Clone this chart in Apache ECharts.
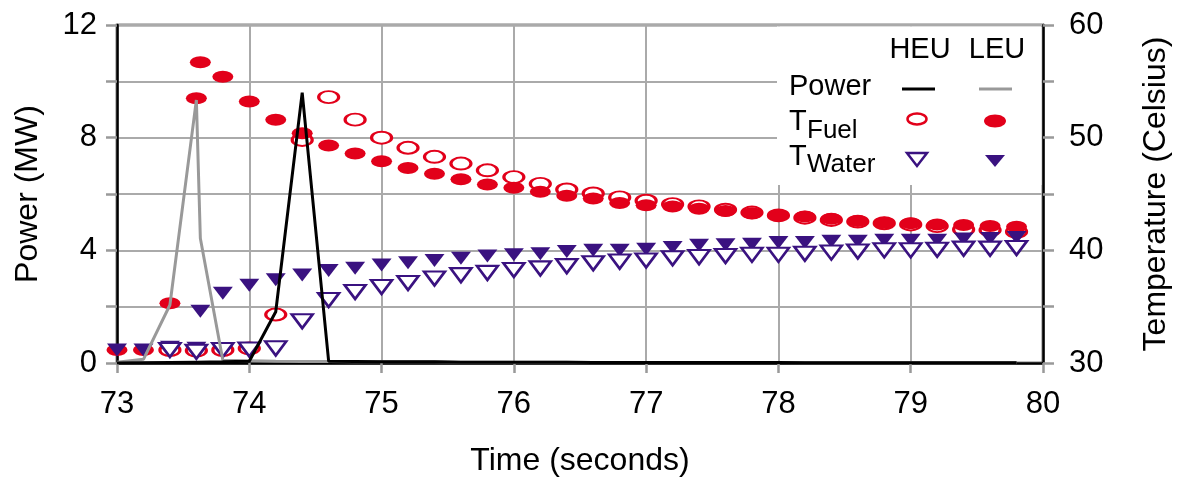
<!DOCTYPE html>
<html>
<head>
<meta charset="utf-8">
<script src="https://cdn.jsdelivr.net/npm/echarts@6/dist/echarts.min.js"></script>
<style>
html, body { margin: 0; padding: 0; background: #fff; }
#chart { width: 1177px; height: 478px; }
</style>
</head>
<body>
<div id="chart"></div>
<script>
// 时间 (s)
var timeHeu = [73.0, 73.2, 73.4, 73.6, 73.8, 74.0, 74.2, 74.4, 74.6, 74.8, 75.0, 75.2, 75.4, 75.6, 75.8,
    76.0, 76.2, 76.4, 76.6, 76.8, 77.0, 77.2, 77.4, 77.6, 77.8, 78.0, 78.2, 78.4, 78.6, 78.8,
    79.0, 79.2, 79.4, 79.6, 79.8];
var timeHeuTemp = [73.4, 73.6, 73.8, 74.0, 74.2, 74.4, 74.6, 74.8, 75.0, 75.2, 75.4, 75.6, 75.8,
    76.0, 76.2, 76.4, 76.6, 76.8, 77.0, 77.2, 77.4, 77.6, 77.8, 78.0, 78.2, 78.4, 78.6, 78.8,
    79.0, 79.2, 79.4, 79.6, 79.8];
var timeLeu = [73.0, 73.2, 73.4, 73.6, 73.63, 73.8, 74.0, 74.2, 74.4, 74.6, 74.8, 75.0, 75.2, 75.4, 75.6, 75.8,
    76.0, 76.2, 76.4, 76.6, 76.8, 77.0, 77.2, 77.4, 77.6, 77.8, 78.0, 78.2, 78.4, 78.6, 78.8,
    79.0, 79.2, 79.4, 79.6, 79.8];

// power (MW)
var heuPower = [0.0, 0.01, 0.02, 0.03, 0.04, 0.06, 1.82, 9.6, 0.06, 0.05, 0.04, 0.04, 0.04, 0.03, 0.03,
    0.03, 0.03, 0.03, 0.02, 0.02, 0.02, 0.02, 0.02, 0.02, 0.02, 0.02, 0.01, 0.01, 0.01, 0.01,
    0.01, 0.01, 0.01, 0.01, 0.01];
var leuPower = [0.03, 0.13, 2.06, 9.34, 4.43, 0.1, 0.08, 0.06, 0.05, 0.05, 0.04, 0.04, 0.04, 0.04, 0.03, 0.03,
    0.03, 0.03, 0.03, 0.02, 0.02, 0.02, 0.02, 0.02, 0.02, 0.02, 0.02, 0.01, 0.01, 0.01, 0.01,
    0.01, 0.01, 0.01, 0.01, 0.01];

// temperature (Celsius)
var heuFuel = [31.15, 31.1, 31.15, 31.3, 34.3, 49.8, 53.6, 51.6, 50.0, 49.1, 48.3, 47.7, 47.1,
    46.5, 45.9, 45.4, 45.05, 44.7, 44.4, 44.1, 43.9, 43.6, 43.35, 43.1, 42.9, 42.7, 42.55, 42.4,
    42.3, 42.15, 41.85, 41.8, 41.65];
var heuWater = [31.15, 31.0, 31.15, 31.2, 31.3, 33.7, 35.6, 36.3, 36.75, 37.1, 37.5, 37.8, 38.0,
    38.25, 38.4, 38.6, 38.85, 39.0, 39.1, 39.3, 39.4, 39.5, 39.6, 39.6, 39.7, 39.8, 39.9, 40.0,
    40.0, 40.05, 40.15, 40.15, 40.2];
var leuFuel = [31.15, 31.15, 35.3, 53.5, 56.7, 55.4, 53.2, 51.6, 50.4, 49.3, 48.6, 47.9, 47.3, 46.8, 46.3, 45.85,
    45.55, 45.2, 44.85, 44.6, 44.2, 44.0, 43.9, 43.7, 43.5, 43.3, 43.1, 43.0, 42.8, 42.6, 42.45,
    42.4, 42.3, 42.25, 42.15, 42.1];
var leuWater = [31.15, 31.15, 31.4, 31.3, 34.6, 36.2, 36.9, 37.4, 37.8, 38.2, 38.4, 38.7, 38.9, 39.1, 39.3, 39.5,
    39.6, 39.7, 39.9, 40.0, 40.0, 40.1, 40.25, 40.45, 40.5, 40.55, 40.7, 40.7, 40.8, 40.8, 40.9,
    40.9, 40.9, 41.0, 41.05, 41.15];

var powerTicks = [0, 4, 8, 12];
var tempTicks = [30, 40, 50, 60];

var red = '#e2001a';
var purple = '#3a1280';
var fontFam = '"Liberation Sans", Arial, sans-serif';
var ellipsePath = 'path://M0,1 A1,1 0 1,1 2,1 A1,1 0 1,1 0,1 Z';
var triPath = 'path://M0,0 L2,0 L1,1.4 Z';

function pairs(xs, ys) {
    var out = [];
    for (var i = 0; i < xs.length; i++) {
        out.push([xs[i], ys[i]]);
    }
    return out;
}

var myChart = echarts.init(document.getElementById('chart'));
var option = {
    animation: false,
    backgroundColor: '#fff',
    grid: {
        left: 117, right: 134, top: 25, bottom: 115,
        containLabel: false, outerBoundsMode: 'none',
        show: true, borderColor: '#000', borderWidth: 2.5, backgroundColor: 'transparent'
    },
    xAxis: {
        type: 'value', min: 73, max: 80, interval: 1,
        name: 'Time (seconds)', nameLocation: 'middle', nameGap: 82,
        nameTextStyle: { fontSize: 32, color: '#000', fontFamily: fontFam },
        axisLine: { lineStyle: { color: '#000', width: 2.5 } },
        axisTick: { length: 10, lineStyle: { color: '#999', width: 2.5 } },
        axisLabel: { fontSize: 31, color: '#000', margin: 26, fontFamily: fontFam },
        splitLine: { lineStyle: { color: '#aaa', width: 2 } }
    },
    yAxis: [
        {
            type: 'value', min: 0, max: 12, interval: 2,
            name: 'Power (MW)', nameLocation: 'middle', nameGap: 73,
            nameTextStyle: { fontSize: 32, color: '#000', fontFamily: fontFam },
            axisLine: { show: true, lineStyle: { color: '#000', width: 2.5 } },
            axisTick: { show: true, length: 11, lineStyle: { color: '#999', width: 2.5 } },
            axisLabel: {
                fontSize: 31, color: '#000', margin: 20, fontFamily: fontFam,
                formatter: function (v) { return powerTicks.indexOf(v) >= 0 ? String(v) : ''; }
            },
            splitLine: { lineStyle: { color: '#aaa', width: 2 } }
        },
        {
            type: 'value', min: 30, max: 60, interval: 5, position: 'right',
            name: 'Temperature (Celsius)', nameLocation: 'middle', nameGap: 97,
            nameTextStyle: { fontSize: 32, color: '#000', fontFamily: fontFam },
            axisLine: { show: true, lineStyle: { color: '#000', width: 2.5 } },
            axisTick: { show: true, length: 11, lineStyle: { color: '#999', width: 2.5 } },
            axisLabel: {
                fontSize: 31, color: '#000', margin: 26, fontFamily: fontFam,
                formatter: function (v) { return tempTicks.indexOf(v) >= 0 ? String(v) : ''; }
            },
            splitLine: { show: false }
        }
    ],
    graphic: [
        // legend box
        { type: 'rect', z: 1, shape: { x: 777, y: 26.5, width: 264.5, height: 158.5 }, style: { fill: '#fff' } },
        { type: 'text', z: 3, x: 920, y: 50, style: { text: 'HEU', fontSize: 29, fontFamily: fontFam, fill: '#000', align: 'center', verticalAlign: 'middle' } },
        { type: 'text', z: 3, x: 997, y: 50, style: { text: 'LEU', fontSize: 29, fontFamily: fontFam, fill: '#000', align: 'center', verticalAlign: 'middle' } },
        { type: 'text', z: 3, x: 789, y: 87, style: { text: 'Power', fontSize: 29, fontFamily: fontFam, fill: '#000', align: 'left', verticalAlign: 'middle' } },
        { type: 'line', z: 3, shape: { x1: 902, y1: 89, x2: 935, y2: 89 }, style: { stroke: '#000', lineWidth: 3 } },
        { type: 'line', z: 3, shape: { x1: 979, y1: 89, x2: 1012, y2: 89 }, style: { stroke: '#999', lineWidth: 3 } },
        { type: 'text', z: 3, x: 789, y: 122, style: { text: 'T', fontSize: 29, fontFamily: fontFam, fill: '#000', align: 'left', verticalAlign: 'middle' } },
        { type: 'text', z: 3, x: 807, y: 131, style: { text: 'Fuel', fontSize: 26, fontFamily: fontFam, fill: '#000', align: 'left', verticalAlign: 'middle' } },
        { type: 'ellipse', z: 3, shape: { cx: 917, cy: 119, rx: 9.5, ry: 5.5 }, style: { fill: '#fff', stroke: red, lineWidth: 2.5 } },
        { type: 'ellipse', z: 3, shape: { cx: 995, cy: 121, rx: 11, ry: 6.5 }, style: { fill: red } },
        { type: 'text', z: 3, x: 789, y: 157, style: { text: 'T', fontSize: 29, fontFamily: fontFam, fill: '#000', align: 'left', verticalAlign: 'middle' } },
        { type: 'text', z: 3, x: 807, y: 165, style: { text: 'Water', fontSize: 26, fontFamily: fontFam, fill: '#000', align: 'left', verticalAlign: 'middle' } },
        { type: 'polygon', z: 3, shape: { points: [[907, 153], [927, 153], [917, 166]] }, style: { fill: '#fff', stroke: purple, lineWidth: 2.5 } },
        { type: 'polygon', z: 3, shape: { points: [[985, 155], [1005, 155], [995, 167]] }, style: { fill: purple } }
    ],
    series: [
        {
            name: 'T Fuel HEU', type: 'scatter', yAxisIndex: 1,
            symbol: ellipsePath, symbolSize: [20, 12],
            itemStyle: { color: '#fff', borderColor: red, borderWidth: 2.5, opacity: 1 },
            data: pairs(timeHeuTemp, heuFuel)
        },
        {
            name: 'T Fuel LEU', type: 'scatter', yAxisIndex: 1,
            symbol: ellipsePath, symbolSize: [21, 12],
            itemStyle: { color: red, opacity: 1 },
            data: pairs(timeLeu, leuFuel)
        },
        {
            name: 'T Water LEU', type: 'scatter', yAxisIndex: 1,
            symbol: triPath, symbolSize: [20, 13],
            itemStyle: { color: purple, opacity: 1 },
            data: pairs(timeLeu, leuWater)
        },
        {
            name: 'T Water HEU', type: 'scatter', yAxisIndex: 1,
            symbol: triPath, symbolSize: [21, 14],
            itemStyle: { color: '#fff', borderColor: purple, borderWidth: 2.5, opacity: 1 },
            data: pairs(timeHeuTemp, heuWater)
        },
        {
            name: 'Power LEU', type: 'line', yAxisIndex: 0, showSymbol: false, symbol: 'none',
            lineStyle: { color: '#999', width: 3 },
            data: pairs(timeLeu, leuPower)
        },
        {
            name: 'Power HEU', type: 'line', yAxisIndex: 0, showSymbol: false, symbol: 'none',
            lineStyle: { color: '#000', width: 3 },
            data: pairs(timeHeu, heuPower)
        }
    ]
};
myChart.setOption(option);
</script>
</body>
</html>
